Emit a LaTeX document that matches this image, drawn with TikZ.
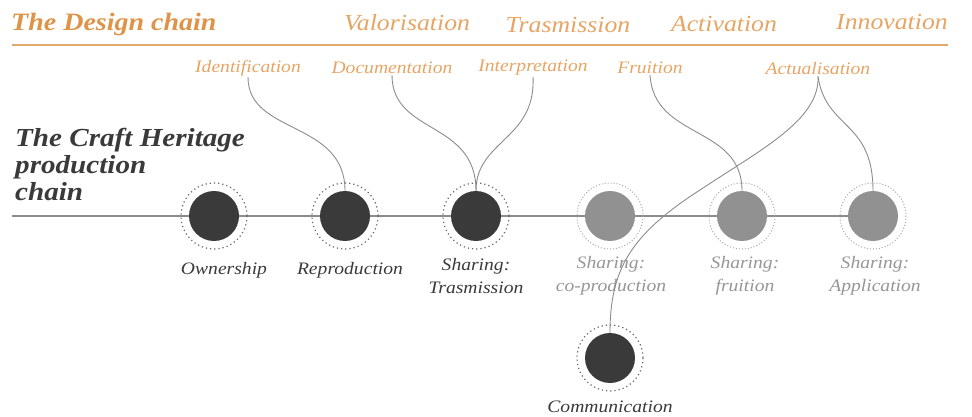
\documentclass[tikz,border=0pt]{standalone}
\usepackage{fontspec}
\setmainfont{Liberation Serif}[FakeStretch=1.12]
\definecolor{orangeT}{RGB}{222,148,72}
\definecolor{orangeL}{RGB}{230,165,100}
\definecolor{darkC}{RGB}{58,58,58}
\definecolor{greyC}{RGB}{145,145,145}
\definecolor{greyT}{RGB}{150,150,150}
\definecolor{lineG}{RGB}{140,140,140}
\begin{document}
\begin{tikzpicture}[x=1pt,y=-1pt,
  head/.style={font=\fontsize{23}{24}\selectfont\itshape, text=orangeL, inner sep=0pt},
  sub/.style={font=\fontsize{17.5}{18}\selectfont\itshape, text=orangeL, inner sep=1pt},
  dot/.style={circle, minimum size=50pt, inner sep=0pt},
  darkdot/.style={dot, fill=darkC},
  greydot/.style={dot, fill=greyC},
  darkring/.style={draw=black!60, line width=1.2pt, dash pattern=on 1.2pt off 3pt},
  greyring/.style={draw=black!35, line width=1pt, dash pattern=on 1pt off 2pt},
  lab/.style={font=\fontsize{17.5}{23}\selectfont\itshape, align=center, inner sep=0pt},
  conn/.style={draw=lineG, line width=0.9pt}]
\useasboundingbox (0,0) rectangle (972,417);
% top band
\node[head, anchor=west, font=\fontsize{25}{26}\selectfont\bfseries\itshape, text=orangeT] (dc) at (11,24) {The Design chain};
\node[head] (val) at (407,23) {Valorisation};
\node[head] (tra) at (568,25) {Trasmission};
\node[head] (act) at (724,24) {Activation};
\node[head] (inn) at (892,22) {Innovation};
\draw[orangeT!80, line width=1.4pt] (12,45) coordinate (ol) -- (948,45) coordinate (or);
\node[sub] (idf) at (248,68) {Identification};
\node[sub] (doc) at (392,68) {Documentation};
\node[sub] (int) at (533,68) {Interpretation};
\node[sub] (fru) at (650,68) {Fruition};
\node[sub] (actu) at (818,69) {Actualisation};
% craft title
\node[anchor=west, font=\fontsize{26}{27}\selectfont\bfseries\itshape, text=darkC, align=left, inner sep=0pt] (craft) at (15,164) {The Craft Heritage\\production\\chain};
% main line
\coordinate (ml) at (12,216);
\coordinate (mr) at (873,216);
\draw[lineG, line width=1.4pt] (ml) -- (mr);
% rings
\foreach \x/\y in {214/216,345/216,476/216,610/358}
  \draw[darkring] (\x,\y) circle (33);
\foreach \x/\y in {610/216,742/216,873/216}
  \draw[greyring] (\x,\y) circle (33);
\node[darkdot] (c1) at (214,216) {};
\node[darkdot] (c2) at (345,216) {};
\node[darkdot] (c3) at (476,216) {};
\node[greydot] (c4) at (610,216) {};
\node[greydot] (c5) at (742,216) {};
\node[greydot] (c6) at (873,216) {};
\node[darkdot] (c7) at (610,358) {};
% labels
\node[lab, text=darkC] (l1) at (224,270) {Ownership};
\node[lab, text=darkC] (l2) at (350,270) {Reproduction};
\node[lab, text=darkC] (l3) at (476,276) {Sharing:\\Trasmission};
\node[lab, text=greyT] (l4) at (611,276) {Sharing:\\co-production};
\node[lab, text=greyT] (l5) at (745,276) {Sharing:\\fruition};
\node[lab, text=greyT] (l6) at (875,276) {Sharing:\\Application};
\node[lab, text=darkC] (l7) at (610,407) {Communication};
% connectors
\draw[conn] (idf.south) .. controls (248,135) and (345,120) .. (c2.north);
\draw[conn] (doc.south) .. controls (392,135) and (476,120) .. (c3.north);
\draw[conn] (int.south) .. controls (536,140) and (476,140) .. (c3.north);
\draw[conn] (fru.south) .. controls (654,140) and (742,125) .. (c5.north);
\draw[conn] (actu.south) .. controls (826,130) and (873,120) .. (c6.north);
\draw[conn] (actu.south) .. controls (820,120) and (760,150) .. (700,190)
  .. controls (630,235) and (610,270) .. (c7.north);
\end{tikzpicture}
\end{document}
